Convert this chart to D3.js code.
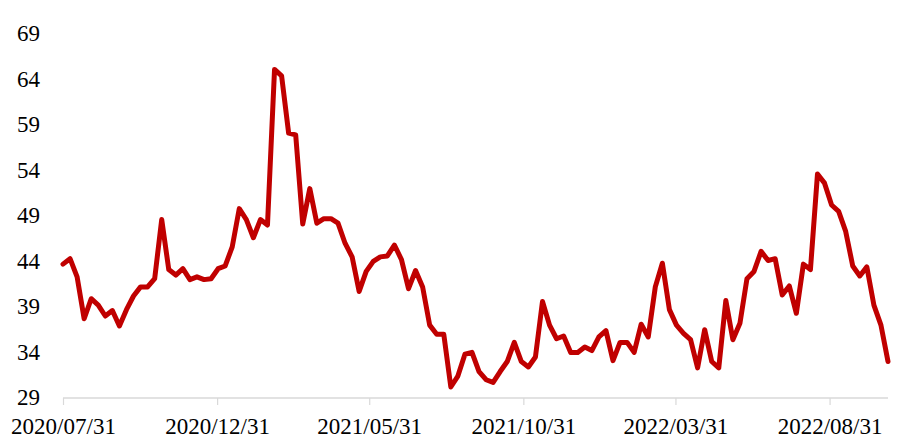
<!DOCTYPE html>
<html>
<head>
<meta charset="utf-8">
<script src="https://cdn.jsdelivr.net/npm/d3@7"></script>
<style>
  html, body { margin: 0; padding: 0; background: #ffffff; }
  svg { display: block; }
</style>
</head>
<body>
<div id="chart"></div>
<script>
const startDate = "2020-07-31";
const values = [
  43.6, 44.2, 42.2, 37.6, 39.8, 39.1, 37.9, 38.5, 36.8, 38.6,
  40.1, 41.1, 41.1, 42.0, 48.5, 43.0, 42.4, 43.1, 41.9, 42.2,
  41.9, 42.0, 43.1, 43.4, 45.5, 49.7, 48.5, 46.5, 48.5, 47.9,
  65.0, 64.3, 58.0, 57.8, 48.0, 51.9, 48.1, 48.6, 48.6, 48.1,
  45.9, 44.4, 40.6, 42.8, 43.9, 44.4, 44.5, 45.7, 44.1, 40.9,
  42.9, 41.1, 36.9, 35.9, 35.9, 30.1, 31.3, 33.7, 33.9, 31.8,
  30.9, 30.6, 31.8, 32.9, 35.0, 32.9, 32.3, 33.4, 39.5, 36.9,
  35.4, 35.7, 33.9, 33.9, 34.5, 34.1, 35.6, 36.3, 33.0, 35.0,
  35.0, 33.9, 37.0, 35.6, 41.1, 43.7, 38.6, 36.9, 36.0, 35.3,
  32.2, 36.4, 32.9, 32.2, 39.6, 35.3, 37.1, 42.0, 42.8, 45.0,
  44.0, 44.2, 40.2, 41.2, 38.2, 43.6, 43.0, 53.5, 52.5, 50.1,
  49.4, 47.2, 43.4, 42.3, 43.3, 39.1, 36.9, 32.9
];
const yTicks = [29, 34, 39, 44, 49, 54, 59, 64, 69];
const xTickLabels = ["2020/07/31", "2020/12/31", "2021/05/31", "2021/10/31", "2022/03/31", "2022/08/31"];

// ---- Build dated series ----
const parse = d3.timeParse("%Y-%m-%d");
const parseLabel = d3.timeParse("%Y/%m/%d");
const t0 = parse(startDate);
const series = values.map((v, i) => ({ date: d3.timeDay.offset(t0, i * 7), value: v }));
const xTickDates = xTickLabels.map(s => parseLabel(s));

// ---- Layout ----
const W = 900, H = 447;
const x0 = 63, x1 = 888;
const yTop = 33, yBottom = 397;

const svg = d3.select("#chart").append("svg")
  .attr("width", W).attr("height", H);

const x = d3.scaleTime()
  .domain([series[0].date, series[series.length - 1].date])
  .range([x0, x1]);

const y = d3.scaleLinear()
  .domain([29, 69])
  .range([yBottom, yTop]);

// X axis
const xAxis = d3.axisBottom(x)
  .tickValues(xTickDates)
  .tickFormat((d, i) => xTickLabels[i])
  .tickSize(7)
  .tickSizeOuter(0);

const gx = svg.append("g")
  .attr("transform", `translate(0,${yBottom + 1})`)
  .call(xAxis);
gx.select(".domain").attr("stroke", "#d9d9d9").attr("stroke-width", 1.5)
  .attr("d", `M${x0},0H${x1}`);
gx.selectAll(".tick line").attr("stroke", "#d9d9d9").attr("stroke-width", 1.2);
gx.selectAll(".tick text")
  .attr("fill", "#000")
  .attr("y", 0)
  .attr("dy", "36px")
  .style("font-family", "'Liberation Serif', 'Times New Roman', serif")
  .style("font-size", "23px");

// Y axis (labels only)
const yAxis = d3.axisLeft(y)
  .tickValues(yTicks)
  .tickFormat(d3.format("d"))
  .tickSize(0);
const gy = svg.append("g")
  .attr("transform", `translate(40,0)`)
  .call(yAxis);
gy.select(".domain").remove();
gy.selectAll(".tick text")
  .attr("fill", "#000")
  .attr("x", 0)
  .attr("dy", "0.34em")
  .style("font-family", "'Liberation Serif', 'Times New Roman', serif")
  .style("font-size", "23px");

// Line
const line = d3.line()
  .x(d => x(d.date))
  .y(d => y(d.value));

svg.append("path")
  .datum(series)
  .attr("fill", "none")
  .attr("stroke", "#C00000")
  .attr("stroke-width", 5)
  .attr("stroke-linejoin", "round")
  .attr("stroke-linecap", "round")
  .attr("d", line);
</script>
</body>
</html>
